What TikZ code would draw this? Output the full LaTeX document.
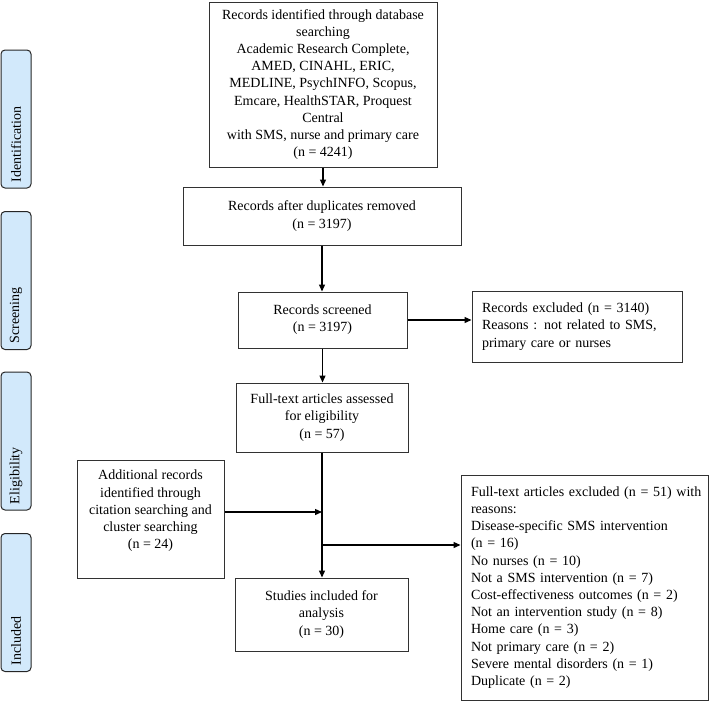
\documentclass[tikz,border=0pt]{standalone}
\usepackage{fontspec}
\setmainfont{Liberation Serif}
\usetikzlibrary{arrows.meta,calc}
\definecolor{phasefill}{RGB}{210,233,251}
\definecolor{boxline}{RGB}{50,50,50}
\begin{document}
\begin{tikzpicture}[x=1pt,y=-1pt,
  every node/.style={font=\fontsize{14}{17.2}\selectfont},
  flowbox/.style={draw=boxline,line width=1pt,fill=white,inner sep=0pt,align=center},
  leftbox/.style={draw=boxline,line width=1pt,fill=white,inner xsep=10pt,inner ysep=0pt,align=left},
  textonly/.style={inner sep=0pt,align=center},
  phasebox/.style={draw=black!85,line width=1pt,fill=phasefill,rounded corners=4pt,rotate=90,
    minimum width=138pt,minimum height=30pt,inner xsep=6pt,text width=126pt,align=left},
  conn/.style={line width=1.3pt,-{Triangle[length=7pt,width=6pt]}}
]
\useasboundingbox (0,0) rectangle (711,702);

% phase labels
\node[phasebox] (pid) at (16,119) {Identification};
\node[phasebox] (psc) at (16,280.5) {Screening};
\node[phasebox] (pel) at (16,441) {Eligibility};
\node[phasebox] (pin) at (16,602.5) {Included};

% main boxes
\node[flowbox,minimum width=228pt,minimum height=165pt] (b1) at (323,84.5)
 {Records identified through database\\searching\\Academic Research Complete,\\AMED, CINAHL, ERIC,\\MEDLINE, PsychINFO, Scopus,\\Emcare, HealthSTAR, Proquest\\Central\\with SMS, nurse and primary care\\(n = 4241)};
\node[flowbox,minimum width=278pt,minimum height=58pt] (b2) at (322,216)
 {Records after duplicates removed\\(n = 3197)};
\node[flowbox,minimum width=169pt,minimum height=56pt] (b3) at (322.5,320)
 {Records screened\\(n = 3197)};
\node[leftbox,minimum width=210pt,minimum height=71pt,text width=190pt] (ex1) at (577,326.5)
 {Records excluded (n = 3140)\\Reasons : not related to SMS,\\primary care or nurses};
\node[flowbox,minimum width=172pt,minimum height=69pt] (b4) at (322,417.5)
 {Full-text articles assessed\\for eligibility\\(n = 57)};
\node[flowbox,minimum width=147pt,minimum height=118pt] (add) at (150.5,519) {};
\node[textonly] (addtext) at (150.5,511)
 {Additional records\\identified through\\citation searching and\\cluster searching\\(n = 24)};
\node[leftbox,minimum width=247pt,minimum height=225pt,text width=227pt] (ex2) at (584.5,587.5)
 {\mbox{Full-text articles excluded (n = 51) with}\\reasons:\\Disease-specific SMS intervention\\(n = 16)\\No nurses (n = 10)\\Not a SMS intervention (n = 7)\\Cost-effectiveness outcomes (n = 2)\\Not an intervention study (n = 8)\\Home care (n = 3)\\Not primary care (n = 2)\\Severe mental disorders (n = 1)\\Duplicate (n = 2)};
\node[flowbox,minimum width=173pt,minimum height=73pt] (b5) at (321.5,614.5)
 {Studies included for\\analysis\\(n = 30)};

% junctions
\coordinate (j1) at (322,512);
\coordinate (j2) at (322,545);

% connectors
\draw[conn] (b1.south) -- (b1.south |- b2.north);
\draw[conn] (b2.south) -- (b2.south |- b3.north);
\draw[conn] (b3.east) -- (ex1.west |- b3.east);
\draw[conn] (b3.south) -- (b3.south |- b4.north);
\draw[conn] (b4.south) -- (b4.south |- b5.north);
\draw[conn] (add.east |- j1) -- (j1);
\draw[conn] (j2) -- (ex2.west |- j2);
\end{tikzpicture}
\end{document}
